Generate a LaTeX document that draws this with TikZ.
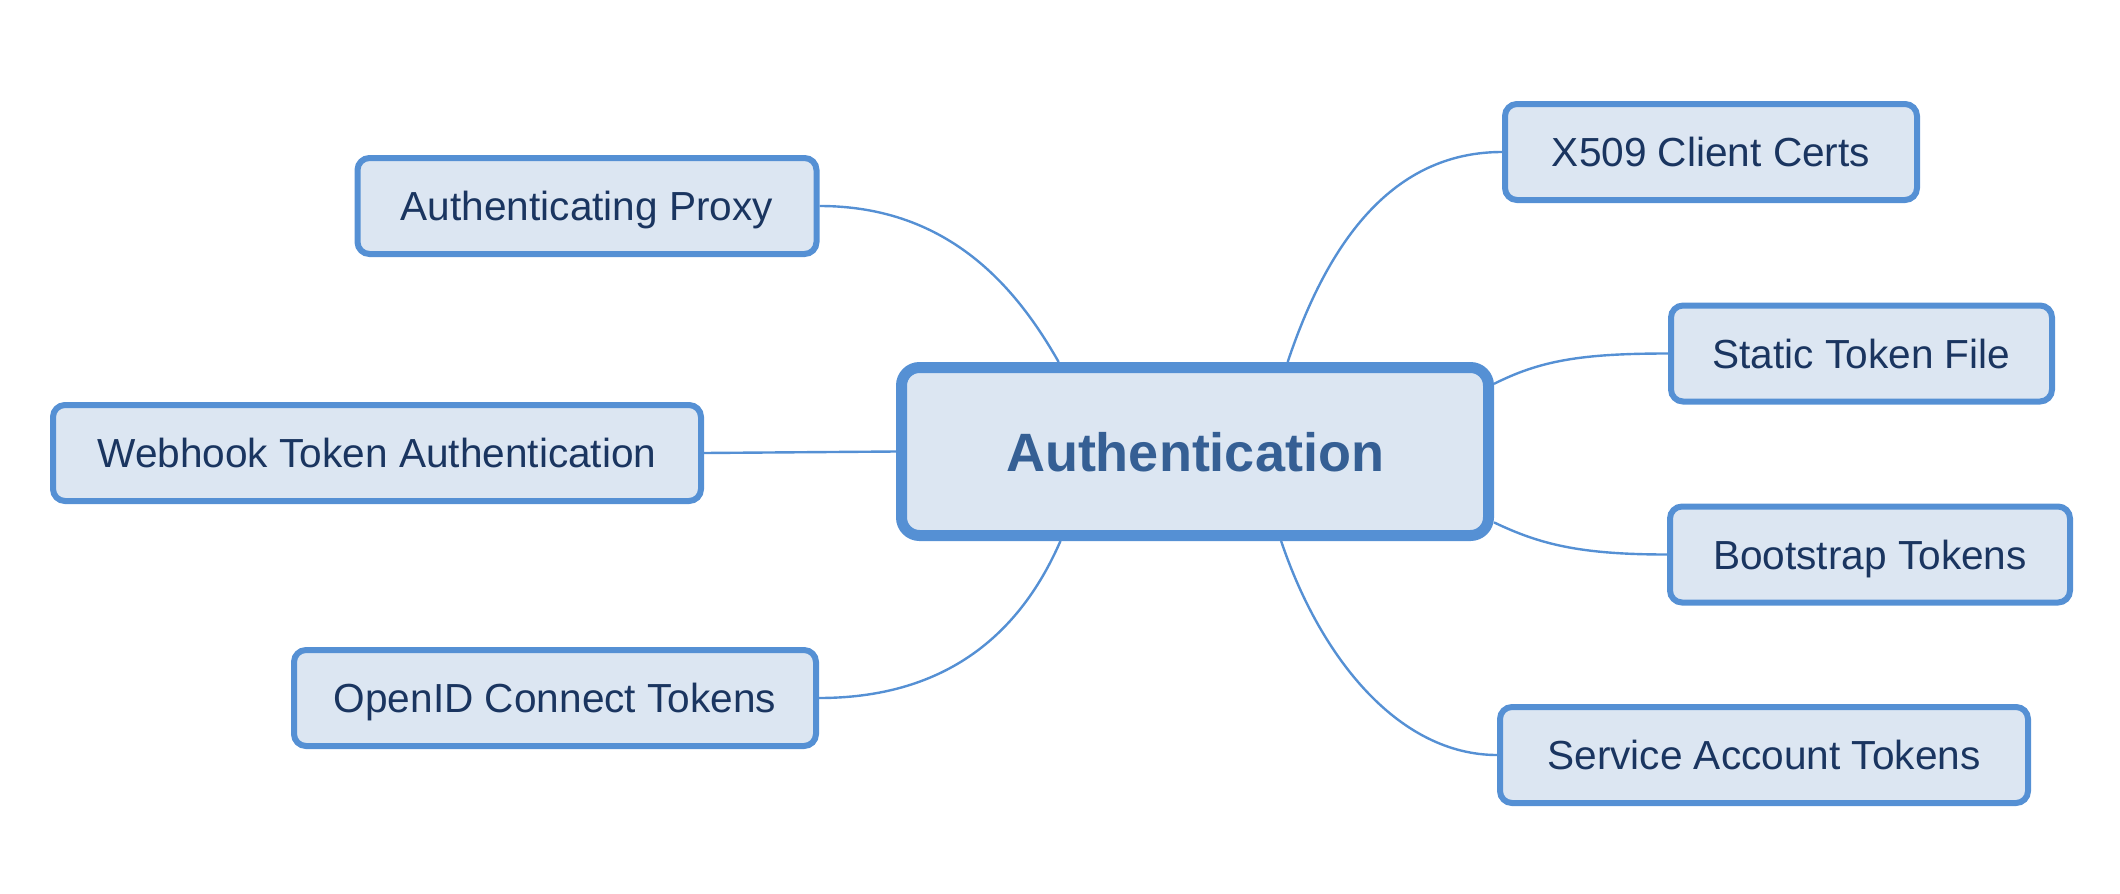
\documentclass[tikz,border=0pt]{standalone}
\usepackage{fontspec}
\setmainfont{Liberation Sans}
\usetikzlibrary{calc}
\pgfdeclarelayer{background}
\pgfsetlayers{background,main}
\definecolor{bordblue}{HTML}{5590D4}
\definecolor{boxfill}{HTML}{DCE6F2}
\definecolor{navytext}{HTML}{1A3560}
\definecolor{maintext}{HTML}{355F94}
\tikzset{
  leaf/.style={draw=bordblue, fill=boxfill, line width=3pt, rounded corners=6pt,
    minimum height=48pt, inner sep=0pt, text=navytext, text height=14.6pt, text depth=0pt,
    font=\fontsize{20.3pt}{24pt}\selectfont},
  hub/.style={draw=bordblue, fill=boxfill, line width=5.5pt, rounded corners=9pt,
    minimum width=293.5pt, minimum height=84pt, inner sep=0pt, text=maintext,
    text height=19.8pt, text depth=0pt,
    font=\bfseries\fontsize{27pt}{32pt}\selectfont},
  link/.style={draw=bordblue, line width=1.2pt}
}
\begin{document}
\begin{tikzpicture}[x=0.5pt,y=-0.5pt]
\useasboundingbox (0,0) rectangle (2120,894);
% nodes
\node[hub] (c) at (1195,451.5) {Authentication};
\node[leaf, minimum width=229.5pt] (proxy) at (587,206) {Authenticating Proxy};
\node[leaf, minimum width=324pt] (webhook) at (377,453) {Webhook Token Authentication};
\node[leaf, minimum width=261pt] (oidc) at (555,698) {OpenID Connect Tokens};
\node[leaf, minimum width=206pt] (x509) at (1711,152) {X509 Client Certs};
\node[leaf, minimum width=190.5pt] (static) at (1861.5,353.5) {Static Token File};
\node[leaf, minimum width=200pt] (boot) at (1870,554.5) {Bootstrap Tokens};
\node[leaf, minimum width=264pt] (sa) at (1764,755) {Service Account Tokens};
% attachment points on the hub
\coordinate (cNL) at ($(c.north west)!0.272!(c.north east)$);
\coordinate (cNR) at ($(c.north west)!0.655!(c.north east)$);
\coordinate (cSL) at ($(c.south west)!0.275!(c.south east)$);
\coordinate (cSR) at ($(c.south west)!0.644!(c.south east)$);
\coordinate (cET) at ($(c.north east)!0.122!(c.south east)$);
\coordinate (cEB) at ($(c.north east)!0.896!(c.south east)$);
% connectors (behind the boxes)
\begin{pgfonlayer}{background}
\path[link] (proxy.east) .. controls +(131,0) and +(-41,-72) .. (cNL);
\path[link] (cNR) .. controls +(44,-132) and +(-102,0) .. (x509.west);
\path[link] (cET) .. controls +(46,-23) and +(-88,0) .. (static.west);
\path[link] (cEB) .. controls +(46,22) and +(-87,0) .. (boot.west);
\path[link] (cSR) .. controls +(40,119) and +(-97,0) .. (sa.west);
\path[link] (cSL) .. controls +(-43,99) and +(121,0) .. (oidc.east);
\path[link] (webhook.east) -- (c.west);
\end{pgfonlayer}
\end{tikzpicture}
\end{document}
